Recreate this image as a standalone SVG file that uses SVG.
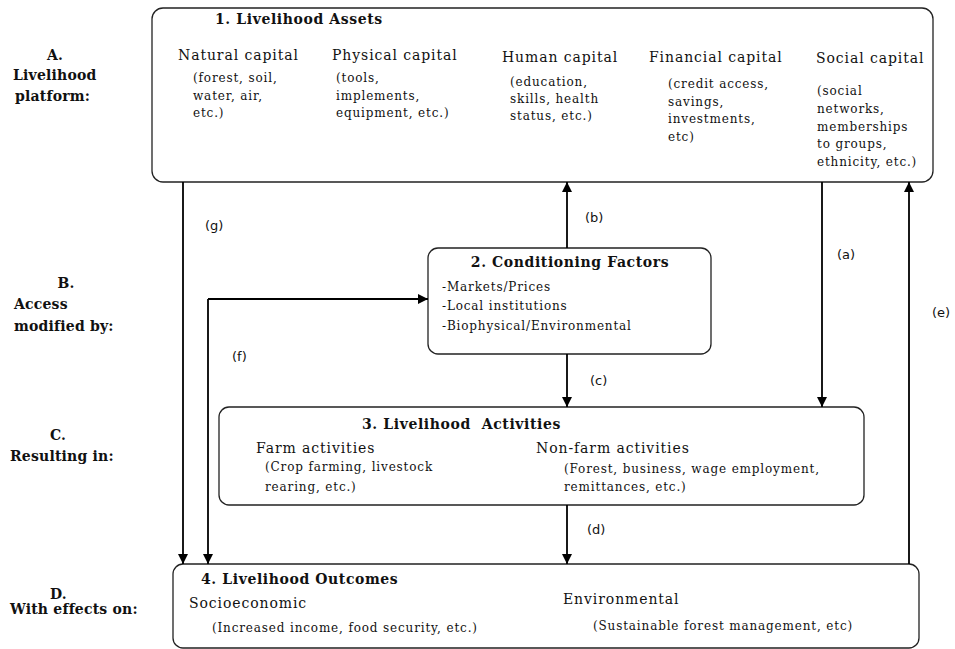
<svg xmlns="http://www.w3.org/2000/svg" width="955" height="649" viewBox="0 0 955 649">
<defs>
<marker id="ah" viewBox="0 0 10 10" refX="10" refY="5" markerWidth="10" markerHeight="10" markerUnits="userSpaceOnUse" orient="auto">
<path d="M0,0 L10,5 L0,10 z" fill="#000"/>
</marker>
<style>
.box{fill:#fff;stroke:#222;stroke-width:1.3}
.t{font-family:"DejaVu Serif","Liberation Serif",serif;font-size:14px;letter-spacing:0.9px;fill:#111}
.s{font-family:"DejaVu Serif","Liberation Serif",serif;font-size:12px;letter-spacing:0.85px;fill:#111}
.h{font-family:"DejaVu Serif","Liberation Serif",serif;font-size:14px;letter-spacing:0.6px;font-weight:bold;fill:#111}
.lab{font-family:"DejaVu Serif","Liberation Serif",serif;font-size:14px;letter-spacing:0.2px;font-weight:bold;fill:#111}
.l{font-family:"DejaVu Sans","Liberation Sans",sans-serif;font-size:13px;fill:#111}
.c{fill:none;stroke:#000;stroke-width:1.8;marker-end:url(#ah)}
</style>
</defs>
<rect width="955" height="649" fill="#fff"/>

<g id="row-labels">
<text class="lab" x="55" y="60" text-anchor="middle">A.</text>
<text class="lab" x="13" y="80">Livelihood</text>
<text class="lab" x="15" y="101">platform:</text>
<text class="lab" x="66" y="288" text-anchor="middle">B.</text>
<text class="lab" x="14" y="309">Access</text>
<text class="lab" x="14" y="331">modified by:</text>
<text class="lab" x="50" y="440">C.</text>
<text class="lab" x="10" y="461">Resulting in:</text>
<text class="lab" x="50" y="599">D.</text>
<text class="lab" x="10" y="614">With effects on:</text>
</g>

<g id="node1">
<rect class="box" x="152" y="8" width="781" height="174" rx="11"/>
<text class="h" x="215" y="24">1. Livelihood Assets</text>
<text class="t" x="178" y="60">Natural capital</text>
<text class="s" x="193" y="82">(forest, soil,</text>
<text class="s" x="193" y="100">water, air,</text>
<text class="s" x="193" y="117">etc.)</text>
<text class="t" x="332" y="60">Physical capital</text>
<text class="s" x="336" y="82">(tools,</text>
<text class="s" x="336" y="100">implements,</text>
<text class="s" x="336" y="117">equipment, etc.)</text>
<text class="t" x="502" y="62">Human capital</text>
<text class="s" x="510" y="86">(education,</text>
<text class="s" x="510" y="103">skills, health</text>
<text class="s" x="510" y="120">status, etc.)</text>
<text class="t" x="649" y="62">Financial capital</text>
<text class="s" x="668" y="88">(credit access,</text>
<text class="s" x="668" y="106">savings,</text>
<text class="s" x="668" y="123">investments,</text>
<text class="s" x="668" y="141">etc)</text>
<text class="t" x="816" y="63">Social capital</text>
<text class="s" x="817" y="95">(social</text>
<text class="s" x="817" y="113">networks,</text>
<text class="s" x="817" y="131">memberships</text>
<text class="s" x="817" y="148">to groups,</text>
<text class="s" x="817" y="166">ethnicity, etc.)</text>
</g>

<g id="node2">
<rect class="box" x="428" y="248" width="283" height="106" rx="10"/>
<text class="h" x="570" y="267" text-anchor="middle">2. Conditioning Factors</text>
<text class="s" x="442" y="291">-Markets/Prices</text>
<text class="s" x="442" y="310">-Local institutions</text>
<text class="s" x="442" y="330">-Biophysical/Environmental</text>
</g>

<g id="node3">
<rect class="box" x="219" y="407" width="645" height="98" rx="10"/>
<text class="h" x="362" y="429" xml:space="preserve">3. Livelihood  Activities</text>
<text class="t" x="256" y="453">Farm activities</text>
<text class="s" x="265" y="471">(Crop farming, livestock</text>
<text class="s" x="265" y="491">rearing, etc.)</text>
<text class="t" x="536" y="453">Non-farm activities</text>
<text class="s" x="564" y="473">(Forest, business, wage employment,</text>
<text class="s" x="564" y="491">remittances, etc.)</text>
</g>

<g id="node4">
<rect class="box" x="173" y="564" width="746" height="84" rx="10"/>
<text class="h" x="201" y="584">4. Livelihood Outcomes</text>
<text class="t" x="189" y="608">Socioeconomic</text>
<text class="s" x="212" y="632">(Increased income, food security, etc.)</text>
<text class="t" x="563" y="604">Environmental</text>
<text class="s" x="593" y="630">(Sustainable forest management, etc)</text>
</g>

<g id="connectors">
<path class="c" d="M183,182 V564"/>
<path class="c" d="M208,299 V564"/>
<path class="c" d="M208,299 H428"/>
<path class="c" d="M567,248 V182"/>
<path class="c" d="M567,354 V407"/>
<path class="c" d="M822,182 V407"/>
<path class="c" d="M909,564 V182"/>
<path class="c" d="M567,505 V564"/>
<text class="l" x="205" y="230">(g)</text>
<text class="l" x="232" y="361">(f)</text>
<text class="l" x="585" y="222">(b)</text>
<text class="l" x="837" y="259">(a)</text>
<text class="l" x="932" y="317">(e)</text>
<text class="l" x="590" y="385">(c)</text>
<text class="l" x="587" y="534">(d)</text>
</g>
</svg>
